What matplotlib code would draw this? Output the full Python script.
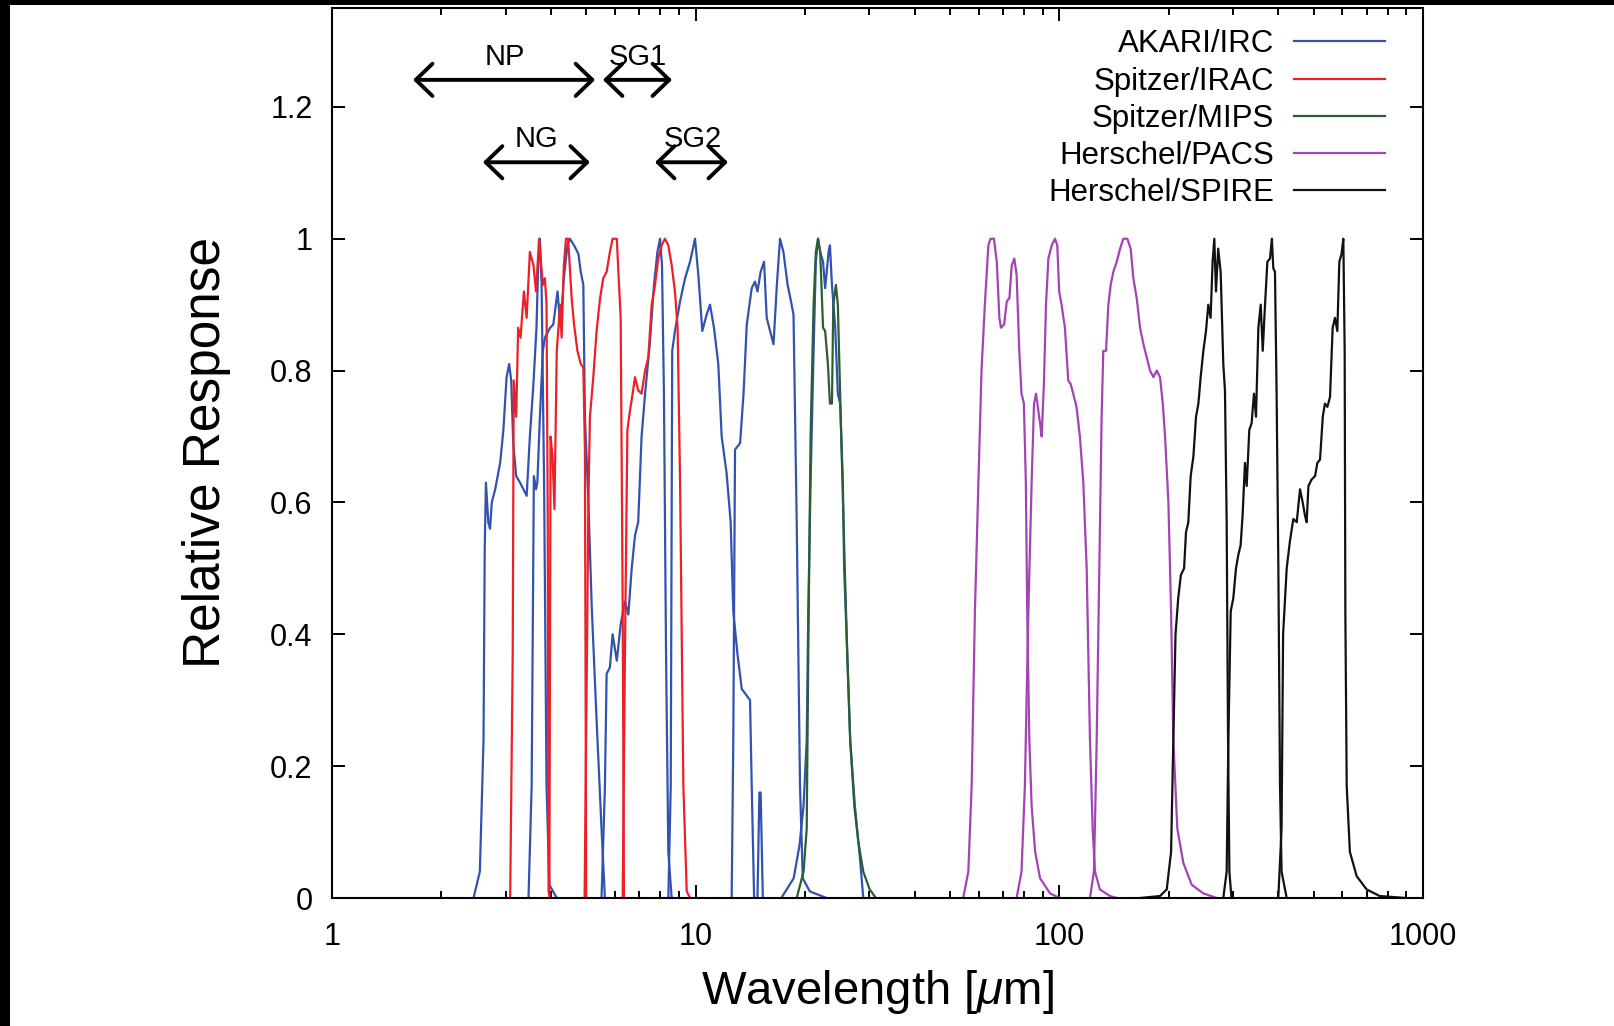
import numpy as np
import matplotlib
matplotlib.use('Agg')
import matplotlib.pyplot as plt
from matplotlib.patches import Rectangle
from matplotlib.ticker import FixedLocator, FuncFormatter, LogLocator, NullFormatter

plt.rcParams['font.family'] = 'Liberation Sans'
plt.rcParams['mathtext.fontset'] = 'custom'
plt.rcParams['mathtext.rm'] = 'Liberation Sans'
plt.rcParams['mathtext.it'] = 'Liberation Sans:italic'

# ---- filter transmission curves (wavelength in micron, relative response) ----

# AKARI/IRC
irc_n3_wl = [2.45, 2.55, 2.61, 2.63, 2.65, 2.69, 2.72, 2.75, 2.81, 2.90, 2.96, 3.02, 3.07, 3.11, 3.15,
             3.21, 3.29, 3.36, 3.43, 3.50, 3.58, 3.65, 3.69, 3.73, 3.77, 3.83, 3.89, 3.96, 4.15]
irc_n3_resp = [0, 0.04, 0.24, 0.53, 0.63, 0.57, 0.56, 0.60, 0.62, 0.66, 0.71, 0.79, 0.81, 0.785, 0.69,
               0.64, 0.63, 0.62, 0.61, 0.70, 0.78, 0.865, 0.96, 1.0, 0.93, 0.63, 0.17, 0.02, 0]

irc_n4_wl = [3.47, 3.54, 3.59, 3.64, 3.67, 3.73, 3.80, 3.85, 3.98, 4.06, 4.17, 4.25, 4.34, 4.44, 4.51,
             4.63, 4.76, 4.83, 4.91, 4.96, 5.07, 5.18, 5.34, 5.51, 5.63]
irc_n4_resp = [0, 0.17, 0.64, 0.62, 0.63, 0.73, 0.83, 0.85, 0.865, 0.87, 0.92, 0.865, 0.94, 0.99, 1.0,
               0.99, 0.977, 0.95, 0.93, 0.73, 0.60, 0.44, 0.27, 0.105, 0]

irc_s7_wl = [5.51, 5.63, 5.69, 5.81, 5.91, 6.07, 6.22, 6.39, 6.53, 6.67, 6.81, 6.95, 7.10, 7.26, 7.49,
             7.68, 7.85, 7.98, 8.08, 8.18, 8.29, 8.41, 8.59]
irc_s7_resp = [0, 0.17, 0.34, 0.35, 0.40, 0.36, 0.415, 0.45, 0.43, 0.50, 0.55, 0.57, 0.70, 0.765, 0.845,
               0.93, 0.98, 1.0, 0.96, 0.765, 0.37, 0.07, 0]

irc_s11_wl = [8.41, 8.54, 8.62, 8.77, 9.06, 9.35, 9.65, 9.96, 10.17, 10.43, 10.72, 10.95, 11.23, 11.54,
              11.79, 12.16, 12.48, 12.69, 13.03, 13.39, 13.69, 14.11, 14.26, 14.48, 14.79, 14.97, 15.09, 15.3]
irc_s11_resp = [0, 0.17, 0.83, 0.86, 0.905, 0.94, 0.965, 1.0, 0.945, 0.86, 0.885, 0.90, 0.865, 0.81,
                0.70, 0.645, 0.57, 0.435, 0.37, 0.317, 0.31, 0.30, 0.17, 0, 0, 0.16, 0.16, 0]

irc_l15_wl = [12.56, 12.69, 12.83, 13.25, 13.54, 13.82, 14.26, 14.56, 14.79, 15.09, 15.42, 15.68, 16.02,
              16.37, 16.72, 17.06, 17.43, 17.90, 18.21, 18.58, 18.96, 19.36, 19.7, 20.6, 22.9]
irc_l15_resp = [0, 0.24, 0.68, 0.69, 0.765, 0.87, 0.925, 0.935, 0.92, 0.95, 0.965, 0.88, 0.86,
                0.84, 0.93, 1.0, 0.98, 0.93, 0.91, 0.885, 0.57, 0.17, 0.03, 0.01, 0]

irc_l24_wl = [17.2, 18.6, 19.3, 19.8, 20.2, 20.4, 20.7, 21.1, 21.4, 21.7, 22.0, 22.4, 22.7, 23.2, 23.4,
              23.7, 24.2, 24.6, 24.96, 25.4, 25.6, 26.1, 26.6, 27.4, 28.3, 28.9]
irc_l24_resp = [0, 0.03, 0.08, 0.14, 0.24, 0.435, 0.63, 0.83, 0.965, 1.0, 0.98, 0.965, 0.925, 0.98, 0.99,
                0.93, 0.865, 0.765, 0.75, 0.63, 0.50, 0.376, 0.24, 0.14, 0.06, 0]

# Spitzer/IRAC
irac1_wl = [3.09, 3.14, 3.16, 3.21, 3.25, 3.30, 3.37, 3.43, 3.50, 3.58, 3.64, 3.71, 3.80, 3.85, 3.89,
            3.92, 3.94, 3.98]
irac1_resp = [0, 0.37, 0.785, 0.73, 0.865, 0.85, 0.92, 0.88, 0.98, 0.96, 0.92, 1.0, 0.93, 0.94, 0.90,
              0.57, 0.01, 0]

irac2_wl = [3.96, 3.99, 4.04, 4.09, 4.15, 4.24, 4.28, 4.34, 4.40, 4.46, 4.56, 4.63, 4.73, 4.83, 4.91,
            4.96, 5.0]
irac2_resp = [0, 0.70, 0.67, 0.59, 0.83, 0.90, 0.85, 0.96, 1.0, 1.0, 0.91, 0.87, 0.83, 0.81, 0.805,
              0.68, 0]

irac3_wl = [4.95, 5.07, 5.12, 5.23, 5.34, 5.46, 5.57, 5.69, 5.81, 5.91, 6.07, 6.13, 6.22, 6.30, 6.35]
irac3_resp = [0, 0.60, 0.73, 0.79, 0.86, 0.91, 0.94, 0.95, 0.98, 1.0, 1.0, 0.95, 0.88, 0.44, 0]

irac4_wl = [6.30, 6.39, 6.49, 6.60, 6.71, 6.81, 6.95, 7.10, 7.26, 7.41, 7.57, 7.73, 7.89, 8.06, 8.23,
            8.41, 8.59, 8.77, 8.92, 9.06, 9.25, 9.45, 9.65]
irac4_resp = [0, 0.37, 0.71, 0.74, 0.765, 0.79, 0.77, 0.765, 0.80, 0.82, 0.90, 0.93, 0.97, 0.99, 1.0,
              0.99, 0.96, 0.92, 0.865, 0.63, 0.17, 0.01, 0]

# Spitzer/MIPS
mips24_wl = [18.96, 19.8, 20.2, 20.4, 20.7, 21.1, 21.4, 21.7, 22.0, 22.4, 22.7, 23.1, 23.4, 23.7, 23.9,
             24.3, 24.6, 24.96, 25.5, 26.1, 26.6, 27.3, 28.0, 28.9, 30.1, 31.3]
mips24_resp = [0, 0.04, 0.105, 0.37, 0.70, 0.90, 0.98, 1.0, 0.98, 0.865, 0.86, 0.81, 0.75, 0.75, 0.90,
               0.93, 0.90, 0.765, 0.57, 0.37, 0.24, 0.14, 0.086, 0.04, 0.013, 0]

# Herschel/PACS
pacs70_wl = [54.4, 56.2, 57.4, 58.6, 59.9, 61.1, 62.4, 63.8, 64.7, 66.1, 67.3, 68.4, 69.1, 70.5, 71.7,
             72.9, 74.0, 75.2, 76.3, 77.6, 78.7, 79.9, 80.9, 81.6, 82.7, 83.9, 85.8, 88.5, 94.3, 100.3]
pacs70_resp = [0, 0.04, 0.17, 0.435, 0.63, 0.80, 0.90, 0.99, 1.0, 1.0, 0.965, 0.88, 0.865, 0.87, 0.905,
               0.91, 0.96, 0.97, 0.945, 0.83, 0.765, 0.75, 0.63, 0.435, 0.24, 0.14, 0.07, 0.03, 0.007, 0]

pacs100_wl = [76.3, 78.7, 80.4, 82.2, 83.9, 85.2, 86.3, 88.5, 89.4, 90.7, 91.9, 93.3, 95.3, 97.3, 98.7,
              99.9, 101.4, 103.6, 105.8, 107.4, 109.2, 111.5, 113.9, 116.4, 118.9, 121.4, 123.5, 125.3,
              129.3, 137.8, 143.8]
pacs100_resp = [0, 0.04, 0.17, 0.435, 0.63, 0.75, 0.765, 0.72, 0.70, 0.78, 0.90, 0.97, 0.99, 1.0, 0.99,
                0.92, 0.90, 0.865, 0.785, 0.78, 0.765, 0.745, 0.70, 0.63, 0.50, 0.24, 0.105, 0.04,
                0.013, 0.003, 0]

pacs160_wl = [121.4, 124.5, 126.7, 128.8, 130.7, 132.1, 134.4, 136.4, 138.4, 140.8, 143.8, 146.9, 150.0,
              153.8, 157.1, 159.8, 163.2, 166.7, 170.3, 173.9, 177.6, 181.4, 185.3, 189.2, 192.5, 195.3,
              199.5, 202.9, 205.8, 211.1, 219.3, 231.3, 248.9, 270.8]
pacs160_resp = [0, 0.04, 0.24, 0.50, 0.73, 0.83, 0.83, 0.90, 0.93, 0.95, 0.965, 0.985, 1.0,
                1.0, 0.985, 0.94, 0.91, 0.865, 0.84, 0.82, 0.80, 0.79, 0.80, 0.79, 0.75, 0.70,
                0.60, 0.435, 0.24, 0.105, 0.053, 0.02, 0.007, 0]

# Herschel/SPIRE
spire250_wl = [166.7, 189.2, 197.4, 202.9, 205.8, 208.7, 212.3, 215.9, 220.3, 223.0, 226.3, 229.7, 233.7,
               237.6, 241.2, 244.7, 248.9, 253.1, 256.8, 260.6, 263.9, 266.8, 269.6, 273.4, 277.7, 282.4,
               285.4, 288.5, 291.0, 293.5, 297.4]
spire250_resp = [0, 0.003, 0.013, 0.07, 0.24, 0.40, 0.455, 0.49, 0.50, 0.555, 0.57, 0.64, 0.67,
                 0.73, 0.75, 0.79, 0.83, 0.86, 0.90, 0.88, 0.965, 1.0, 0.92, 0.985, 0.95, 0.81,
                 0.77, 0.57, 0.24, 0.04, 0]

spire350_wl = [282.4, 288.5, 291.6, 296.0, 300.9, 306.0, 310.5, 315.1, 319.1, 323.9, 327.5, 332.9, 337.8,
               342.9, 347.4, 352.6, 357.9, 362.5, 367.8, 373.3, 379.6, 384.1, 387.6, 391.7, 395.8, 400.2,
               404.4, 408.4, 421.9]
spire350_resp = [0, 0.04, 0.24, 0.435, 0.455, 0.50, 0.52, 0.535, 0.58, 0.66, 0.625, 0.71, 0.72,
                 0.765, 0.73, 0.865, 0.90, 0.83, 0.90, 0.965, 0.97, 1.0, 0.955, 0.95, 0.765, 0.50,
                 0.17, 0.04, 0]

spire500_wl = [400, 408.4, 412.4, 421.9, 430.3, 439.9, 449.5, 459.0, 466.9, 473.7, 478.8, 484.1, 494.3,
               505.0, 512.3, 521.0, 530.2, 537.4, 545.9, 555.0, 564.4, 572.7, 581.3, 588.8, 597.0, 603.8,
               609.0, 611.6, 616.9, 629.4, 657.2, 700, 760, 900]
spire500_resp = [0, 0.105, 0.40, 0.50, 0.54, 0.575, 0.57, 0.62, 0.60, 0.58, 0.57, 0.625, 0.635,
                 0.64, 0.66, 0.665, 0.73, 0.75, 0.745, 0.76, 0.865, 0.88, 0.86, 0.965, 0.977, 1.0,
                 0.83, 0.435, 0.17, 0.07, 0.033, 0.013, 0.003, 0]

# AKARI/IRC spectroscopic modes: (name, short end, long end, arrow height, label x, label baseline)
modes = [('NP', 1.67, 5.29, 1.241, 2.99, 1.2635),
         ('SG1', 5.56, 8.61, 1.241, 6.94, 1.2635),
         ('NG', 2.60, 5.12, 1.116, 3.64, 1.139),
         ('SG2', 7.73, 12.27, 1.116, 9.83, 1.139)]

instruments = [
    ('AKARI/IRC', '#3252b0', [(irc_n3_wl, irc_n3_resp), (irc_n4_wl, irc_n4_resp), (irc_s7_wl, irc_s7_resp),
                              (irc_s11_wl, irc_s11_resp), (irc_l15_wl, irc_l15_resp), (irc_l24_wl, irc_l24_resp)]),
    ('Spitzer/IRAC', '#ec2028', [(irac1_wl, irac1_resp), (irac2_wl, irac2_resp),
                                 (irac3_wl, irac3_resp), (irac4_wl, irac4_resp)]),
    ('Spitzer/MIPS', '#2b5e30', [(mips24_wl, mips24_resp)]),
    ('Herschel/PACS', '#a443b4', [(pacs70_wl, pacs70_resp), (pacs100_wl, pacs100_resp),
                                  (pacs160_wl, pacs160_resp)]),
    ('Herschel/SPIRE', '#111111', [(spire250_wl, spire250_resp), (spire350_wl, spire350_resp),
                                   (spire500_wl, spire500_resp)]),
]

W, H = 1614, 1026
fig = plt.figure(figsize=(W / 100, H / 100), dpi=100)
ax = fig.add_axes([332 / W, 1 - 898 / H, 1091 / W, 890 / H])

for name, color, curves in instruments:
    for i, (wl, resp) in enumerate(curves):
        ax.plot(wl, resp, '-', color=color, lw=1.6, label=name if i == 0 else None)

for name, x1, x2, y, tx, ty in modes:
    ax.annotate('', xy=(x2, y), xytext=(x1, y),
                arrowprops=dict(arrowstyle='<->,head_length=0.6,head_width=0.58',
                                mutation_scale=20, lw=2.8, color='black',
                                shrinkA=0, shrinkB=0))
    ax.text(tx, ty, name, fontsize=21, ha='center', va='baseline')

ax.set_xscale('log')
ax.set_xlim(1, 1000)
ax.set_ylim(0, 1.35)

ax.xaxis.set_major_locator(FixedLocator([1, 10, 100, 1000]))
ax.xaxis.set_major_formatter(FuncFormatter(lambda v, p: '%d' % v))
ax.xaxis.set_minor_locator(LogLocator(base=10, subs=np.arange(2, 10)))
ax.xaxis.set_minor_formatter(NullFormatter())
ax.yaxis.set_major_locator(FixedLocator([0, 0.2, 0.4, 0.6, 0.8, 1.0, 1.2]))
ax.yaxis.set_major_formatter(FuncFormatter(lambda v, p: '%g' % v))

ax.tick_params(which='both', direction='in', top=True, right=True, width=1.4, labelsize=22)
ax.tick_params(which='major', length=9.5)
ax.tick_params(which='minor', length=5)
ax.tick_params(axis='x', pad=17)
ax.tick_params(axis='y', pad=14)
for s in ax.spines.values():
    s.set_linewidth(1.5)

ax.set_xlabel(r'Wavelength [$\mu$m]', fontsize=34)
ax.set_ylabel('Relative Response', fontsize=37)
ax.xaxis.set_label_coords(0.5, -0.079)
ax.yaxis.set_label_coords(-0.093, 0.5)

ax.legend(loc='upper right', bbox_to_anchor=(0.9707, 0.983), frameon=False, markerfirst=False,
          fontsize=22.5, handlelength=2.9, handletextpad=0.65, labelspacing=0.23,
          borderpad=0.2, borderaxespad=0)

# dark border strips along the left and top edges
fig.add_artist(Rectangle((0, 0), 10 / W, 1, transform=fig.transFigure, color='black', lw=0))
fig.add_artist(Rectangle((0, 1 - 5 / H), 1, 5 / H, transform=fig.transFigure, color='black', lw=0))

fig.savefig('out.png', dpi=100)
plt.close(fig)
